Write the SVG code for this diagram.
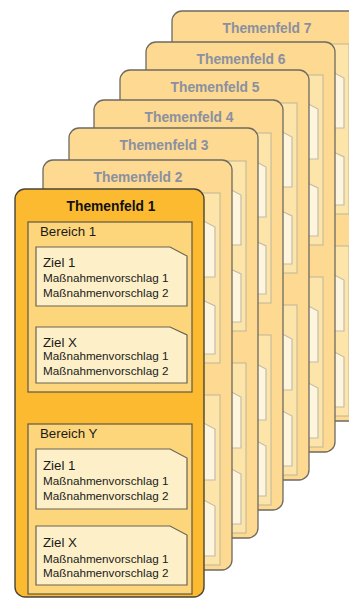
<svg xmlns="http://www.w3.org/2000/svg" xmlns:xlink="http://www.w3.org/1999/xlink" width="349" height="599" viewBox="0 0 349 599">
<style>
.bcard{fill:#FDD992;stroke:#6E6A60;stroke-width:1.3}
.bber{fill:#FDE5AA;stroke:#C8BC98;stroke-width:1.2}
.bziel{fill:#FEF5DF;stroke:#C4BCA8;stroke-width:1.2}
.fcard{fill:#FBBA30;stroke:#4A4536;stroke-width:1.4}
.fber{fill:#FDD57A;stroke:#5E5848;stroke-width:1.2}
.fziel{fill:#FDF0C8;stroke:#6A6454;stroke-width:1.2}
.btitle{font-family:"Liberation Sans",Arial,sans-serif;font-weight:bold;font-size:13.8px;fill:#8A90A0;text-anchor:middle}
.ftitle{font-family:"Liberation Sans",Arial,sans-serif;font-weight:bold;font-size:13.8px;fill:#111;text-anchor:middle}
.lbl{font-family:"Liberation Sans",Arial,sans-serif;font-size:13.3px;fill:#1a1a1a}
.sm{font-family:"Liberation Sans",Arial,sans-serif;font-size:11.7px;fill:#1a1a1a}
</style>
<defs>
<g id="backBody">
<rect class="bcard" x="0" y="0" width="189" height="410" rx="10"/>
<rect class="bber" x="13" y="33" width="164" height="170"/>
<path class="bziel" d="M21,58 H155 L172,67 V117 H21 Z"/>
<path class="bziel" d="M21,138 H155 L172,146 V194 H21 Z"/>
<rect class="bber" x="13" y="235" width="164" height="170"/>
<path class="bziel" d="M21,260 H155 L172,269 V320 H21 Z"/>
<path class="bziel" d="M21,337 H155 L172,346 V396 H21 Z"/>
</g>
</defs>
<g id="connectors"/>
<g id="themenfeld7" transform="translate(172,11)">
<use xlink:href="#backBody"/>
<text class="btitle" x="95" y="22">Themenfeld 7</text>
</g>
<g id="themenfeld6" transform="translate(146,42)">
<use xlink:href="#backBody"/>
<text class="btitle" x="95" y="22">Themenfeld 6</text>
</g>
<g id="themenfeld5" transform="translate(120,70)">
<use xlink:href="#backBody"/>
<text class="btitle" x="95" y="22">Themenfeld 5</text>
</g>
<g id="themenfeld4" transform="translate(94,100)">
<use xlink:href="#backBody"/>
<text class="btitle" x="95" y="22">Themenfeld 4</text>
</g>
<g id="themenfeld3" transform="translate(69,128)">
<use xlink:href="#backBody"/>
<text class="btitle" x="95" y="22">Themenfeld 3</text>
</g>
<g id="themenfeld2" transform="translate(43,160)">
<use xlink:href="#backBody"/>
<text class="btitle" x="95" y="22">Themenfeld 2</text>
</g>
<g id="themenfeld1" transform="translate(15,189)">
<rect class="fcard" x="0" y="0" width="189" height="408" rx="10"/>
<text class="ftitle" x="96" y="22">Themenfeld 1</text>
<g id="bereich1">
<rect class="fber" x="13" y="33" width="164" height="170"/>
<text class="lbl" x="25" y="47">Bereich 1</text>
<g id="b1ziel1">
<path class="fziel" d="M21,58 H155 L172,67 V117 H21 Z"/>
<text class="lbl" x="28" y="78">Ziel 1</text>
<text class="sm" x="28" y="93">Maßnahmenvorschlag 1</text>
<text class="sm" x="28" y="108">Maßnahmenvorschlag 2</text>
</g>
<g id="b1zielx">
<path class="fziel" d="M21,138 H155 L172,146 V194 H21 Z"/>
<text class="lbl" x="28" y="158">Ziel X</text>
<text class="sm" x="28" y="171">Maßnahmenvorschlag 1</text>
<text class="sm" x="28" y="186">Maßnahmenvorschlag 2</text>
</g>
</g>
<g id="bereichY">
<rect class="fber" x="13" y="235" width="164" height="170"/>
<text class="lbl" x="25" y="249">Bereich Y</text>
<g id="bYziel1">
<path class="fziel" d="M21,260 H155 L172,269 V320 H21 Z"/>
<text class="lbl" x="28" y="281">Ziel 1</text>
<text class="sm" x="28" y="296">Maßnahmenvorschlag 1</text>
<text class="sm" x="28" y="311">Maßnahmenvorschlag 2</text>
</g>
<g id="bYzielx">
<path class="fziel" d="M21,337 H155 L172,346 V396 H21 Z"/>
<text class="lbl" x="28" y="358">Ziel X</text>
<text class="sm" x="28" y="374">Maßnahmenvorschlag 1</text>
<text class="sm" x="28" y="388">Maßnahmenvorschlag 2</text>
</g>
</g>
</g>
</svg>
